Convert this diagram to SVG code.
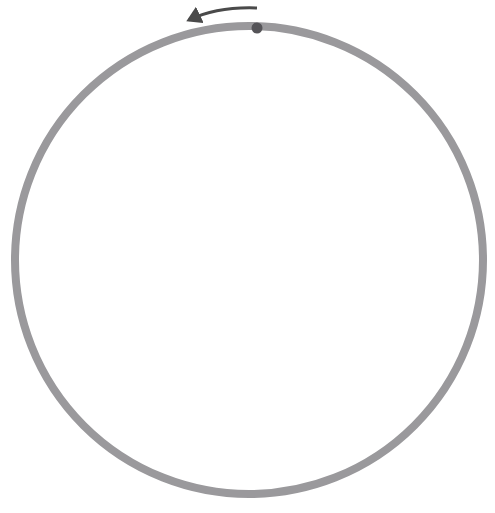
<svg xmlns="http://www.w3.org/2000/svg" width="495" height="513" viewBox="0 0 495 513">
<defs>
<marker id="ah" markerWidth="6" markerHeight="6" refX="4" refY="3" orient="auto" markerUnits="strokeWidth">
<path d="M0,0 L5,3 L0,6 Z" fill="#4a4a4a"/>
</marker>
</defs>
<rect width="495" height="513" fill="#ffffff"/>
<g id="ring">
<circle cx="249" cy="260" r="234" fill="none" stroke="#9a999c" stroke-width="8"/>
</g>
<g id="dot">
<circle cx="257" cy="28" r="5.5" fill="#555458"/>
</g>
<g id="connectors">
<path d="M257,8 C230,7 208,11 189,20" fill="none" stroke="#4a4a4a" stroke-width="3" marker-end="url(#ah)"/>
</g>
</svg>
